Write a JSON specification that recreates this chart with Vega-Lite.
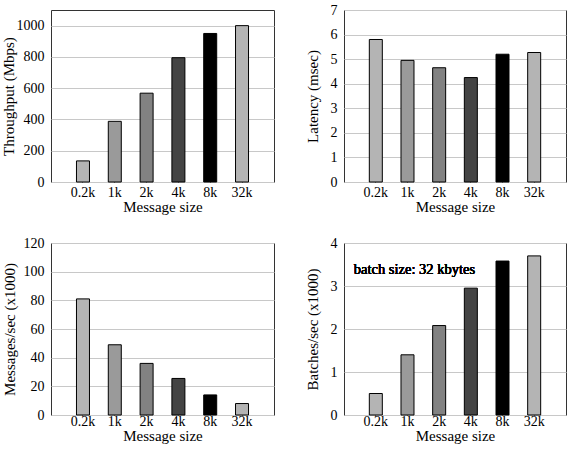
{
  "$schema": "https://vega.github.io/schema/vega-lite/v6.json",
  "background": "white",
  "padding": {"left": 0, "top": 2, "right": 2, "bottom": 0},
  "autosize": {"type": "pad"},
  "datasets": {
    "d": [
      {"size": "0.2k", "throughput": 135, "latency": 5.8, "msgs": 81, "batches": 0.5},
      {"size": "1k", "throughput": 388, "latency": 4.95, "msgs": 49, "batches": 1.4},
      {"size": "2k", "throughput": 568, "latency": 4.65, "msgs": 36, "batches": 2.08},
      {"size": "4k", "throughput": 795, "latency": 4.25, "msgs": 25.5, "batches": 2.95},
      {"size": "8k", "throughput": 950, "latency": 5.2, "msgs": 14, "batches": 3.58},
      {"size": "32k", "throughput": 1000, "latency": 5.27, "msgs": 8, "batches": 3.7}
    ]
  },
  "config": {
    "font": "Liberation Serif",
    "view": {"stroke": "#333333", "strokeWidth": 1},
    "axis": {
      "labelFont": "Liberation Serif",
      "titleFont": "Liberation Serif",
      "labelFontSize": 14,
      "titleFontSize": 15,
      "titleFontWeight": "normal",
      "labelFontWeight": "normal",
      "labelColor": "black",
      "titleColor": "black",
      "domain": false,
      "gridColor": "#c8c8c8",
      "gridWidth": 1
    },
    "axisX": {"grid": false, "ticks": true, "tickSize": -4, "tickColor": "#333333", "labelAngle": 0},
    "axisY": {"ticks": false, "labelPadding": 7, "format": "d"},
    "bar": {"stroke": "black", "strokeWidth": 1}
  },
  "bounds": "flush",
  "columns": 2,
  "spacing": {"row": 61, "column": 70},
  "concat": [
    {
      "width": 223,
      "height": 172,
      "data": {"name": "d"},
      "mark": {"type": "bar", "width": 13},
      "encoding": {
        "x": {"field": "size", "type": "nominal", "sort": null, "scale": {"paddingInner": 0.59, "paddingOuter": 0.8}, "axis": {"title": "Message size", "labelPadding": 7, "titlePadding": 0}},
        "y": {"field": "throughput", "type": "quantitative", "scale": {"domain": [0, 1100], "nice": false}, "axis": {"title": "Throughput (Mbps)", "values": [0, 200, 400, 600, 800, 1000], "titlePadding": 0}},
        "fill": {"field": "size", "type": "nominal", "sort": null, "legend": null,
          "scale": {"domain": ["0.2k", "1k", "2k", "4k", "8k", "32k"], "range": ["#b4b4b4", "#9a9a9a", "#828282", "#444444", "#000000", "#b4b4b4"]}}
      }
    },
    {
      "width": 222,
      "height": 172,
      "data": {"name": "d"},
      "mark": {"type": "bar", "width": 13},
      "encoding": {
        "x": {"field": "size", "type": "nominal", "sort": null, "scale": {"paddingInner": 0.59, "paddingOuter": 0.8}, "axis": {"title": "Message size", "labelPadding": 7, "titlePadding": 0}},
        "y": {"field": "latency", "type": "quantitative", "scale": {"domain": [0, 7], "nice": false}, "axis": {"title": "Latency (msec)", "values": [0, 1, 2, 3, 4, 5, 6, 7], "titlePadding": 10}},
        "fill": {"field": "size", "type": "nominal", "sort": null, "legend": null,
          "scale": {"domain": ["0.2k", "1k", "2k", "4k", "8k", "32k"], "range": ["#b4b4b4", "#828282", "#9a9a9a", "#444444", "#000000", "#b4b4b4"]}}
      }
    },
    {
      "width": 223,
      "height": 172,
      "data": {"name": "d"},
      "mark": {"type": "bar", "width": 13},
      "encoding": {
        "x": {"field": "size", "type": "nominal", "sort": null, "scale": {"paddingInner": 0.59, "paddingOuter": 0.8}, "axis": {"title": "Message size", "labelPadding": 3, "titlePadding": 0}},
        "y": {"field": "msgs", "type": "quantitative", "scale": {"domain": [0, 120], "nice": false}, "axis": {"title": "Messages/sec (x1000)", "values": [0, 20, 40, 60, 80, 100, 120], "titlePadding": 6}},
        "fill": {"field": "size", "type": "nominal", "sort": null, "legend": null,
          "scale": {"domain": ["0.2k", "1k", "2k", "4k", "8k", "32k"], "range": ["#b4b4b4", "#9a9a9a", "#828282", "#444444", "#000000", "#b4b4b4"]}}
      }
    },
    {
      "width": 222,
      "height": 172,
      "data": {"name": "d"},
      "encoding": {
        "x": {"field": "size", "type": "nominal", "sort": null, "scale": {"paddingInner": 0.59, "paddingOuter": 0.8}, "axis": {"title": "Message size", "labelPadding": 3, "titlePadding": 0}}
      },
      "layer": [
        {
          "mark": {"type": "bar", "width": 13},
          "encoding": {
            "y": {"field": "batches", "type": "quantitative", "scale": {"domain": [0, 4], "nice": false}, "axis": {"title": "Batches/sec (x1000)", "values": [0, 1, 2, 3, 4], "titlePadding": 10}},
            "fill": {"field": "size", "type": "nominal", "sort": null, "legend": null,
              "scale": {"domain": ["0.2k", "1k", "2k", "4k", "8k", "32k"], "range": ["#b4b4b4", "#828282", "#9a9a9a", "#444444", "#000000", "#b4b4b4"]}}
          }
        },
        {
          "mark": {"type": "text", "align": "left", "baseline": "middle", "dx": -22, "fontSize": 14.5, "fontWeight": "normal", "font": "Liberation Serif", "color": "black"},
          "encoding": {
            "x": {"datum": "0.2k"},
            "y": {"datum": 3.37},
            "text": {"value": "batch size: 32 kbytes"}
          }
        }
      ]
    }
  ]
}
